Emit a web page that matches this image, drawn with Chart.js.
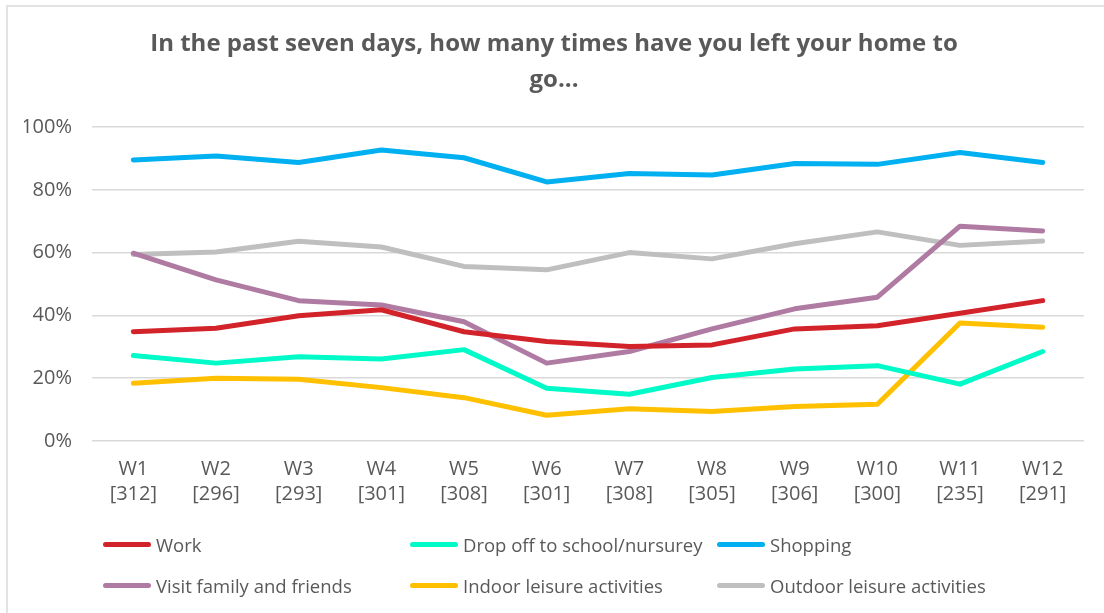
<!DOCTYPE html>
<html lang="en">
<head>
<meta charset="UTF-8">
<title>Leaving home - weekly</title>
<script src="https://cdn.jsdelivr.net/npm/chart.js"></script>
<style>
    body {
        margin: 0;
        background: #ffffff;
        font-family: 'Open Sans', sans-serif;
    }
    .frame {
        position: absolute;
        left: 6px;
        top: 5px;
        width: 1200px;
        height: 700px;
        border-top: 2px solid #e3e3e3;
        border-left: 2px solid #e3e3e3;
    }
    .wrap {
        position: relative;
        width: 1104px;
        height: 613px;
        overflow: hidden;
    }
    .wrap canvas {
        position: absolute;
        left: 0;
        top: 0;
    }
    #legend {
        position: absolute;
        left: 103px;
        top: 528px;
        display: grid;
        grid-template-columns: 307px 307px 307px;
        row-gap: 9px;
    }
    .item {
        display: flex;
        align-items: center;
        height: 32px;
        font-size: 18.5px;
        color: #595959;
        white-space: nowrap;
    }
    .swatch {
        width: 48px;
        height: 5px;
        border-radius: 3px;
        margin-right: 5px;
        flex: none;
    }
</style>
</head>
<body>
<div class="wrap">
    <div class="frame"></div>
    <canvas id="chart" width="1104" height="613"></canvas>
    <div id="legend"></div>
</div>

<script>
    // weeks and number of respondents
    const weeks = ['W1', 'W2', 'W3', 'W4', 'W5', 'W6', 'W7', 'W8', 'W9', 'W10', 'W11', 'W12'];
    const respondents = ['[312]', '[296]', '[293]', '[301]', '[308]', '[301]', '[308]', '[305]', '[306]', '[300]', '[235]', '[291]'];

    // % of people leaving home for each reason
    const work = [34.8, 35.9, 39.9, 41.8, 34.8, 31.7, 30.1, 30.6, 35.7, 36.7, 40.7, 44.7];
    const dropOff = [27.2, 24.8, 26.8, 26.1, 29.1, 16.8, 14.9, 20.2, 22.9, 24.0, 18.1, 28.5];
    const shopping = [89.5, 90.8, 88.7, 92.7, 90.2, 82.5, 85.2, 84.7, 88.4, 88.1, 91.9, 88.7];
    const visitFamily = [59.8, 51.3, 44.7, 43.3, 38.0, 24.8, 28.5, 35.7, 42.1, 45.8, 68.4, 66.9];
    const indoorLeisure = [18.4, 20.0, 19.7, 17.0, 13.8, 8.2, 10.3, 9.4, 11.0, 11.7, 37.6, 36.2];
    const outdoorLeisure = [59.4, 60.2, 63.6, 61.8, 55.6, 54.5, 60.0, 58.0, 62.8, 66.6, 62.3, 63.7];

    const yTicks = [0, 20, 40, 60, 80, 100];

    const labels = weeks.map((w, i) => [w, respondents[i]]);

    function series(label, data, color) {
        return {
            label: label,
            data: data,
            borderColor: color,
            backgroundColor: color,
            borderWidth: 5,
            pointRadius: 0,
            tension: 0,
            borderCapStyle: 'round',
            borderJoinStyle: 'round'
        };
    }

    const datasets = [
        series('Work', work, '#d2232a'),
        series('Drop off to school/nursurey', dropOff, '#00fac8'),
        series('Shopping', shopping, '#00b0f0'),
        series('Visit family and friends', visitFamily, '#b07ba2'),
        series('Indoor leisure activities', indoorLeisure, '#ffc000'),
        series('Outdoor leisure activities', outdoorLeisure, '#bfbfbf')
    ];

    const textColor = '#595959';

    const chart = new Chart(document.getElementById('chart'), {
        type: 'line',
        data: { labels: labels, datasets: datasets },
        options: {
            responsive: false,
            animation: false,
            layout: {
                padding: { top: 26, left: 24, right: 20, bottom: 98 }
            },
            plugins: {
                legend: { display: false },
                tooltip: { enabled: false },
                title: {
                    display: true,
                    text: ['In the past seven days, how many times have you left your home to', 'go...'],
                    color: textColor,
                    font: { family: 'Open Sans', size: 24, weight: 'bold', lineHeight: 1.5 },
                    padding: { top: 0, bottom: 29 }
                }
            },
            scales: {
                x: {
                    offset: true,
                    grid: { display: false },
                    border: { display: false },
                    ticks: {
                        color: textColor,
                        font: { family: 'Open Sans', size: 20, lineHeight: 1.25 },
                        padding: 8,
                        maxRotation: 0,
                        autoSkip: false
                    }
                },
                y: {
                    min: 0,
                    max: 100,
                    afterBuildTicks: axis => {
                        axis.ticks = yTicks.map(v => ({ value: v }));
                    },
                    afterFit: axis => {
                        axis.width = 68;
                    },
                    grid: { color: '#d9d9d9', lineWidth: 1.5, drawTicks: false },
                    border: { display: false },
                    ticks: {
                        color: textColor,
                        font: { family: 'Open Sans', size: 20 },
                        padding: 20,
                        callback: v => v + '%'
                    }
                }
            }
        }
    });

    // legend laid out as a 3-column grid like the original
    const legend = document.getElementById('legend');
    chart.data.datasets.forEach(ds => {
        const item = document.createElement('div');
        item.className = 'item';
        const sw = document.createElement('span');
        sw.className = 'swatch';
        sw.style.background = ds.borderColor;
        item.appendChild(sw);
        item.appendChild(document.createTextNode(ds.label));
        legend.appendChild(item);
    });
</script>
</body>
</html>
